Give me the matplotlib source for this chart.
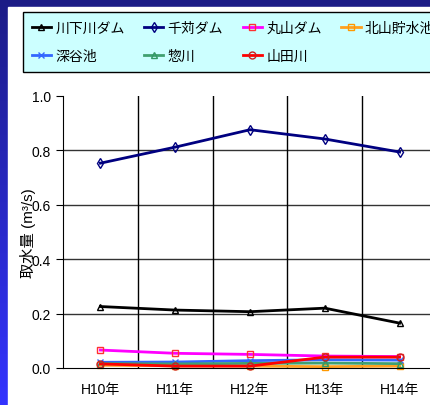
import matplotlib.pyplot as plt
import numpy as np

plt.rcParams['font.family'] = ['Liberation Sans', 'Noto Sans CJK JP', 'DejaVu Sans']

years = ['H10年', 'H11年', 'H12年', 'H13年', 'H14年']

kawashimo = [0.226, 0.213, 0.207, 0.220, 0.165]
sengari = [0.753, 0.812, 0.876, 0.842, 0.794]
maruyama = [0.066, 0.054, 0.050, 0.044, 0.042]
kitayama = [0.010, 0.008, 0.007, 0.005, 0.007]
fukatani = [0.021, 0.022, 0.027, 0.030, 0.029]
sougawa = [0.016, 0.015, 0.017, 0.018, 0.016]
yamada = [0.015, 0.007, 0.007, 0.040, 0.040]

names = ['川下川ダム', '千苅ダム', '丸山ダム', '北山貯水池', '深谷池', '惣川', '山田川']
series = [kawashimo, sengari, maruyama, kitayama, fukatani, sougawa, yamada]
line_colors = ['black', '#000080', '#ff00ff', '#ffa020', '#3366ff', '#40a070', '#ff0000']
marker_colors = ['black', '#000080', '#ff3030', '#ff9900', '#3366ff', '#339966', '#cc2020']
markers = ['^', 'd', 's', 's', 'x', '^', 'o']

fig = plt.figure(figsize=(4.31, 4.06), dpi=100)

# slide background: blue gradient with white panel
bg = fig.add_axes([0, 0, 1, 1], zorder=-10)
grad = np.linspace(0, 1, 256).reshape(-1, 1)
bg.imshow(grad, aspect='auto', cmap=plt.matplotlib.colors.LinearSegmentedColormap.from_list(
    'bg', ['#1c1c86', '#3434ff']), extent=[0, 1, 0, 1], origin='upper')
bg.add_patch(plt.Rectangle((8 / 431, 0), 1, 1 - 8 / 406, color='white'))
bg.set_xlim(0, 1)
bg.set_ylim(0, 1)
bg.axis('off')

ax = fig.add_axes([63 / 431, 37 / 406, 374 / 431, 272 / 406])
x = np.arange(len(years))
handles = []
for vals, name, lc, mc, m in zip(series, names, line_colors, marker_colors, markers):
    h, = ax.plot(x, vals, color=lc, lw=2, marker=m, markersize=5,
                 markerfacecolor='none', markeredgecolor=mc, markeredgewidth=1,
                 label=name, clip_on=False)
    handles.append(h)

ax.set_xlim(-0.5, 4.5)
ax.set_ylim(0, 1.0)
ax.set_xticks(x)
ax.set_xticklabels(years, fontsize=10)
ax.set_yticks(np.arange(0, 1.01, 0.2))
ax.set_yticklabels(['%.1f' % v for v in np.arange(0, 1.01, 0.2)], fontsize=10)
ax.tick_params(axis='x', length=0, pad=10)
ax.tick_params(axis='y', length=5, direction='out')
for v in [0.2, 0.4, 0.6, 0.8]:
    ax.axhline(v, color='#333333', lw=1, zorder=0)
for v in [0.5, 1.5, 2.5, 3.5]:
    ax.axvline(v, color='black', lw=1, zorder=0)
ax.spines['top'].set_visible(False)
ax.spines['right'].set_visible(False)
ax.set_ylabel('取水量 (m³/s)', fontsize=11)
ax.yaxis.set_label_coords(-0.072, 0.5)

order = [0, 4, 1, 5, 2, 6, 3]
leg = fig.legend([handles[i] for i in order], [names[i] for i in order],
                 ncol=4, loc='upper left', bbox_to_anchor=(23 / 431, 1 - 13 / 406),
                 borderaxespad=0, fontsize=10, frameon=True, fancybox=False,
                 facecolor='#ccffff', edgecolor='black', framealpha=1,
                 handlelength=1.4, handletextpad=0.3, columnspacing=1.4,
                 borderpad=0.62, labelspacing=1.05)
leg.get_frame().set_linewidth(1)

fig.savefig('out.png', dpi=100)
